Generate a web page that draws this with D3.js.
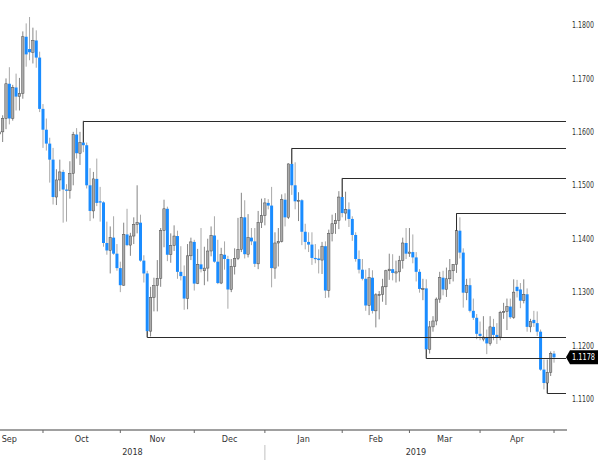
<!DOCTYPE html>
<html>
<head>
<meta charset="utf-8">
<script src="https://cdnjs.cloudflare.com/ajax/libs/d3/7.8.5/d3.min.js"></script>
<style>
  body { margin: 0; background: #fff; }
  svg { display: block; font-family: "Liberation Sans Narrow", "DejaVu Sans Condensed", "Arial Narrow", sans-serif; }
</style>
</head>
<body>
<svg width="600" height="462"></svg>
<script>
// EUR/USD daily candles, 11 Sep 2018 - 30 Apr 2019 (weekdays)
const open = [
  // Sep
  1.1596, 1.1600, 1.1625, 1.1690, 1.1625, 1.1683, 1.1666, 1.1672, 1.1778, 1.1755, 1.1749, 1.1771, 1.1739, 1.1643,
  // Oct
  1.1604, 1.1578, 1.1548, 1.1478, 1.1510, 1.1525, 1.1492, 1.1490, 1.1522, 1.1595, 1.1560, 1.1580, 1.1575, 1.1500,
  1.1452, 1.1512, 1.1470, 1.1468, 1.1392, 1.1378, 1.1402, 1.1372, 1.1345,
  // Nov
  1.1313, 1.1408, 1.1388, 1.1405, 1.1427, 1.1430, 1.1359, 1.1335, 1.1227, 1.1290, 1.1312, 1.1326, 1.1415, 1.1456,
  1.1370, 1.1387, 1.1405, 1.1338, 1.1330, 1.1288, 1.1368, 1.1394,
  // Dec
  1.1316, 1.1352, 1.1340, 1.1345, 1.1377, 1.1406, 1.1357, 1.1317, 1.1370, 1.1362, 1.1305, 1.1348, 1.1363, 1.1380,
  1.1440, 1.1371, 1.1402, 1.1395, 1.1353, 1.1430, 1.1443,
  // Jan
  1.1467, 1.1462, 1.1345, 1.1392, 1.1395, 1.1473, 1.1440, 1.1540, 1.1500, 1.1470, 1.1472, 1.1413, 1.1394, 1.1389,
  1.1364, 1.1363, 1.1360, 1.1386, 1.1303, 1.1410, 1.1428, 1.1434, 1.1478,
  // Feb
  1.1448, 1.1455, 1.1437, 1.1407, 1.1362, 1.1342, 1.1325, 1.1275, 1.1327, 1.1265, 1.1295, 1.1296, 1.1310, 1.1340,
  1.1343, 1.1336, 1.1338, 1.1359, 1.1392, 1.1372,
  // Mar
  1.1375, 1.1365, 1.1338, 1.1306, 1.1307, 1.1193, 1.1235, 1.1246, 1.1287, 1.1327, 1.1305, 1.1325, 1.1340, 1.1352,
  1.1415, 1.1374, 1.1299, 1.1313, 1.1265, 1.1252, 1.1222,
  // Apr
  1.1212, 1.1216, 1.1204, 1.1235, 1.1220, 1.1216, 1.1262, 1.1264, 1.1273, 1.1253, 1.1310, 1.1305, 1.1284, 1.1296,
  1.1235, 1.1248, 1.1242, 1.1226, 1.1155, 1.1130, 1.1150, 1.1185
];
const high = [
  1.1646, 1.1631, 1.1700, 1.1721, 1.1688, 1.1709, 1.1701, 1.1788, 1.1803, 1.1815, 1.1795, 1.1790, 1.1750, 1.1652,
  1.1625, 1.1589, 1.1570, 1.1530, 1.1548, 1.1529, 1.1502, 1.1545, 1.1600, 1.1607, 1.1600, 1.1621, 1.1580, 1.1532,
  1.1525, 1.1550, 1.1497, 1.1470, 1.1432, 1.1423, 1.1442, 1.1390, 1.1357,
  1.1430, 1.1456, 1.1411, 1.1440, 1.1500, 1.1445, 1.1369, 1.1340, 1.1310, 1.1327, 1.1360, 1.1420, 1.1473, 1.1460,
  1.1410, 1.1425, 1.1415, 1.1386, 1.1350, 1.1390, 1.1402, 1.1398,
  1.1381, 1.1420, 1.1385, 1.1400, 1.1423, 1.1442, 1.1398, 1.1383, 1.1395, 1.1368, 1.1362, 1.1382, 1.1439, 1.1486,
  1.1472, 1.1446, 1.1420, 1.1420, 1.1452, 1.1475, 1.1476,
  1.1474, 1.1497, 1.1412, 1.1420, 1.1483, 1.1485, 1.1541, 1.1570, 1.1543, 1.1487, 1.1474, 1.1428, 1.1412, 1.1412,
  1.1390, 1.1380, 1.1394, 1.1395, 1.1417, 1.1445, 1.1448, 1.1489, 1.1514,
  1.1488, 1.1468, 1.1442, 1.1412, 1.1378, 1.1362, 1.1342, 1.1345, 1.1341, 1.1298, 1.1302, 1.1325, 1.1342, 1.1372,
  1.1371, 1.1359, 1.1368, 1.1402, 1.1420, 1.1420,
  1.1408, 1.1375, 1.1343, 1.1325, 1.1324, 1.1246, 1.1255, 1.1290, 1.1338, 1.1340, 1.1346, 1.1362, 1.1352, 1.1448,
  1.1440, 1.1382, 1.1325, 1.1326, 1.1288, 1.1259, 1.1245,
  1.1255, 1.1230, 1.1255, 1.1250, 1.1242, 1.1265, 1.1280, 1.1288, 1.1288, 1.1324, 1.1323, 1.1317, 1.1324, 1.1307,
  1.1250, 1.1265, 1.1264, 1.1230, 1.1174, 1.1174, 1.1189, 1.1190
];
const low = [
  1.1570, 1.1581, 1.1605, 1.1614, 1.1621, 1.1640, 1.1640, 1.1662, 1.1722, 1.1734, 1.1728, 1.1720, 1.1637, 1.1570,
  1.1565, 1.1505, 1.1464, 1.1463, 1.1489, 1.1430, 1.1432, 1.1475, 1.1500, 1.1550, 1.1538, 1.1562, 1.1494, 1.1433,
  1.1438, 1.1461, 1.1432, 1.1385, 1.1370, 1.1335, 1.1370, 1.1340, 1.1300,
  1.1312, 1.1386, 1.1368, 1.1390, 1.1410, 1.1357, 1.1318, 1.1216, 1.1217, 1.1264, 1.1264, 1.1310, 1.1384, 1.1358,
  1.1355, 1.1377, 1.1325, 1.1322, 1.1267, 1.1268, 1.1360, 1.1303,
  1.1315, 1.1337, 1.1313, 1.1320, 1.1367, 1.1355, 1.1315, 1.1315, 1.1342, 1.1269, 1.1300, 1.1333, 1.1360, 1.1375,
  1.1363, 1.1365, 1.1388, 1.1347, 1.1343, 1.1420, 1.1425,
  1.1455, 1.1309, 1.1325, 1.1348, 1.1393, 1.1423, 1.1437, 1.1482, 1.1455, 1.1433, 1.1388, 1.1380, 1.1375, 1.1351,
  1.1354, 1.1335, 1.1334, 1.1289, 1.1290, 1.1395, 1.1409, 1.1418, 1.1440,
  1.1434, 1.1422, 1.1396, 1.1357, 1.1335, 1.1322, 1.1265, 1.1257, 1.1260, 1.1234, 1.1249, 1.1282, 1.1276, 1.1323,
  1.1322, 1.1318, 1.1320, 1.1344, 1.1362, 1.1366,
  1.1354, 1.1320, 1.1299, 1.1285, 1.1176, 1.1185, 1.1226, 1.1238, 1.1280, 1.1294, 1.1291, 1.1315, 1.1320, 1.1336,
  1.1363, 1.1271, 1.1285, 1.1262, 1.1248, 1.1212, 1.1210,
  1.1208, 1.1184, 1.1200, 1.1210, 1.1203, 1.1210, 1.1250, 1.1229, 1.1250, 1.1250, 1.1290, 1.1270, 1.1279, 1.1226,
  1.1225, 1.1235, 1.1218, 1.1153, 1.1118, 1.1111, 1.1143, 1.1168
];
const close = [
  1.1600, 1.1625, 1.1690, 1.1625, 1.1683, 1.1666, 1.1672, 1.1778, 1.1745, 1.1749, 1.1771, 1.1739, 1.1643, 1.1604,
  1.1578, 1.1548, 1.1478, 1.1510, 1.1525, 1.1492, 1.1490, 1.1522, 1.1595, 1.1560, 1.1580, 1.1575, 1.1500, 1.1452,
  1.1512, 1.1467, 1.1468, 1.1392, 1.1378, 1.1402, 1.1372, 1.1345, 1.1313,
  1.1408, 1.1388, 1.1405, 1.1427, 1.1430, 1.1359, 1.1335, 1.1227, 1.1290, 1.1312, 1.1326, 1.1415, 1.1456, 1.1370,
  1.1387, 1.1405, 1.1338, 1.1330, 1.1288, 1.1368, 1.1394, 1.1316,
  1.1352, 1.1343, 1.1345, 1.1377, 1.1406, 1.1357, 1.1317, 1.1370, 1.1362, 1.1305, 1.1348, 1.1363, 1.1380, 1.1440,
  1.1371, 1.1402, 1.1395, 1.1353, 1.1430, 1.1443, 1.1467,
  1.1462, 1.1345, 1.1392, 1.1395, 1.1473, 1.1440, 1.1540, 1.1500, 1.1470, 1.1472, 1.1413, 1.1394, 1.1389, 1.1364,
  1.1363, 1.1360, 1.1386, 1.1303, 1.1410, 1.1428, 1.1434, 1.1478, 1.1448,
  1.1455, 1.1437, 1.1407, 1.1362, 1.1342, 1.1325, 1.1275, 1.1327, 1.1265, 1.1295, 1.1296, 1.1310, 1.1340, 1.1343,
  1.1336, 1.1338, 1.1359, 1.1392, 1.1372, 1.1375,
  1.1365, 1.1338, 1.1306, 1.1307, 1.1193, 1.1235, 1.1246, 1.1287, 1.1327, 1.1305, 1.1325, 1.1340, 1.1352, 1.1415,
  1.1374, 1.1299, 1.1313, 1.1265, 1.1252, 1.1222, 1.1218,
  1.1216, 1.1204, 1.1235, 1.1220, 1.1216, 1.1262, 1.1264, 1.1273, 1.1253, 1.1300, 1.1302, 1.1284, 1.1296, 1.1235,
  1.1245, 1.1242, 1.1226, 1.1155, 1.1130, 1.1150, 1.1185, 1.1178
];

// trend lines drawn by hand on the chart: start date + level
const lineDates = ["2018-10-16", "2019-01-10", "2019-01-31", "2019-03-20", "2018-11-12", "2019-03-07", "2019-04-26"];
const lineLevels = [1.1621, 1.1570, 1.1514, 1.1448, 1.1216, 1.1176, 1.1111];
const lineSide = ["high", "high", "high", "high", "low", "low", "low"];

const priceTicks = [1.11, 1.12, 1.13, 1.14, 1.15, 1.16, 1.17, 1.18];
const lastPrice = 1.1178;

const parse = d3.timeParse("%Y-%m-%d");
const fmtDay = d3.timeFormat("%Y-%m-%d");
const isWeekday = d => d.getDay() !== 0 && d.getDay() !== 6;
const firstDay = parse("2018-09-11"), lastDay = parse("2019-04-30");
const days = d3.timeDay.range(firstDay, d3.timeDay.offset(lastDay, 1)).filter(isWeekday).map(fmtDay);

const candles = days.map((d, i) => ({ date: d, o: open[i], h: high[i], l: low[i], c: close[i] }));

const svg = d3.select("svg");
const plotRight = 567;
const axisY = 430;

const x = d3.scaleBand()
    .domain(days)
    .range([-2.4, 555.7])
    .padding(0);
const step = x.step();
const cx = d => x(d) + step / 2;

const y = d3.scaleLinear()
    .domain([1.11, 1.18])
    .range([399, 25]);

// weekday offset of any date from the first candle (for month boundaries outside the data)
function dayIndex(date) {
    if (date >= firstDay) return d3.timeDay.range(firstDay, date).filter(isWeekday).length;
    return -d3.timeDay.range(date, firstDay).filter(isWeekday).length;
}
const boundaryX = date => x.range()[0] + dayIndex(date) * step - step / 2;

// candles
const g = svg.append("g");
g.selectAll("line.wick")
    .data(candles)
    .join("line")
    .attr("class", "wick")
    .attr("x1", d => cx(d.date)).attr("x2", d => cx(d.date))
    .attr("y1", d => y(d.h)).attr("y2", d => y(d.l))
    .attr("stroke", d => d.c >= d.o ? "#858585" : "#a8a8a8")
    .attr("stroke-width", 1);

g.selectAll("rect.body")
    .data(candles)
    .join("rect")
    .attr("class", "body")
    .attr("x", d => cx(d.date) - (d.c >= d.o ? 1.2 : 1.5))
    .attr("width", d => d.c >= d.o ? 2.4 : 3)
    .attr("y", d => y(Math.max(d.o, d.c)))
    .attr("height", d => Math.max(1.2, Math.abs(y(d.o) - y(d.c))))
    .attr("fill", d => d.c >= d.o ? "#ababab" : "#1a8cff")
    .attr("stroke", d => d.c >= d.o ? "#4a4a4a" : "none")
    .attr("stroke-width", 0.5);

// hand-drawn levels
const lines = lineDates.map((d, i) => {
    const c = candles[days.indexOf(d)];
    return {
        x: cx(d), level: lineLevels[i],
        stub: lineSide[i] === "high" ? Math.max(c.o, c.c) : Math.min(c.o, c.c)
    };
});
const lg = svg.append("g").attr("stroke", "#2b2b2b").attr("stroke-width", 1).attr("fill", "none");
lines.forEach(l => {
    lg.append("path")
        .attr("d", `M${l.x},${y(l.stub)}V${Math.round(y(l.level)) + 0.5}H${plotRight - 1}`);
});

// price axis (right), squeezed like the narrow terminal font
svg.append("g")
    .selectAll("text")
    .data(priceTicks)
    .join("text")
    .attr("x", 572)
    .attr("y", d => y(d))
    .attr("dy", "0.35em")
    .attr("font-size", 9)
    .attr("textLength", 22)
    .attr("lengthAdjust", "spacingAndGlyphs")
    .attr("fill", "#333")
    .text(d => d.toFixed(4));

// last price tag
const ly = y(lastPrice);
svg.append("path")
    .attr("d", `M566,${ly}L570,${ly - 7}H598V${ly + 7}H570Z`)
    .attr("fill", "#000");
svg.append("text")
    .attr("x", 572).attr("y", ly).attr("dy", "0.35em")
    .attr("font-size", 9)
    .attr("textLength", 23)
    .attr("lengthAdjust", "spacingAndGlyphs")
    .attr("fill", "#fff")
    .text(lastPrice.toFixed(4));

// time axis
const months = d3.timeMonth.range(parse("2018-09-01"), parse("2019-06-01"));
const bounds = months.map(boundaryX);
const ax = svg.append("g");
ax.append("line")
    .attr("x1", 0).attr("x2", plotRight)
    .attr("y1", axisY).attr("y2", axisY)
    .attr("stroke", "#808080").attr("stroke-width", 1.6);
ax.selectAll("line.tick")
    .data(bounds.slice(1))
    .join("line")
    .attr("class", "tick")
    .attr("x1", d => d).attr("x2", d => d)
    .attr("y1", axisY).attr("y2", axisY + 3)
    .attr("stroke", "#666");
ax.selectAll("text.month")
    .data(months.slice(0, -1))
    .join("text")
    .attr("class", "month")
    .attr("x", (d, i) => (bounds[i] + bounds[i + 1]) / 2)
    .attr("y", 439).attr("dy", "0.35em")
    .attr("text-anchor", "middle")
    .attr("font-size", 9).attr("fill", "#333")
    .text(d3.timeFormat("%b"));

const yearSplit = boundaryX(parse("2019-01-01"));
const years = [{ label: "2018", a: 0, b: yearSplit }, { label: "2019", a: yearSplit, b: plotRight }];
ax.selectAll("text.year")
    .data(years)
    .join("text")
    .attr("class", "year")
    .attr("x", d => (d.a + d.b) / 2)
    .attr("y", 452).attr("dy", "0.35em")
    .attr("text-anchor", "middle")
    .attr("font-size", 9).attr("fill", "#333")
    .text(d => d.label);
ax.append("line")
    .attr("x1", yearSplit).attr("x2", yearSplit)
    .attr("y1", 445).attr("y2", 460)
    .attr("stroke", "#c0c0c0");
</script>
</body>
</html>
